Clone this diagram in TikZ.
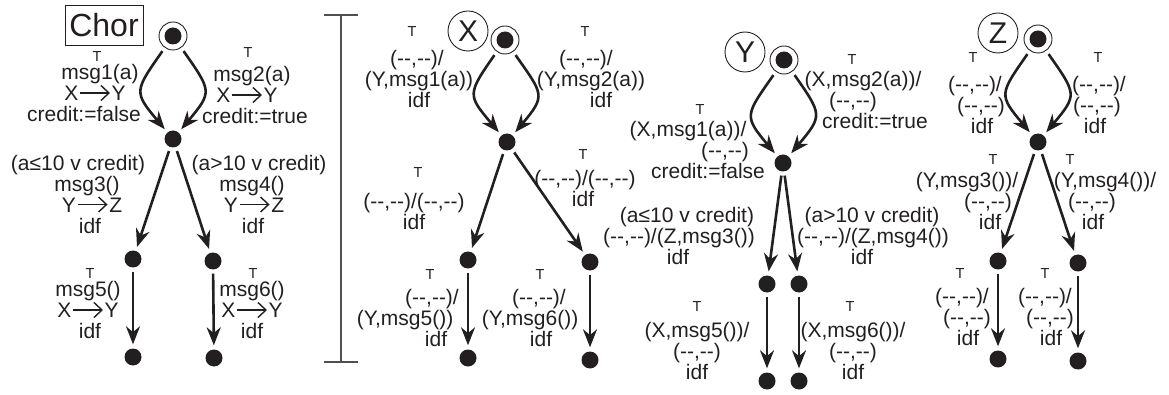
\documentclass[tikz,border=0pt]{standalone}
\usepackage{fontspec}
\setmainfont{Liberation Sans}
\usetikzlibrary{arrows.meta}
\definecolor{ink}{RGB}{35,31,32}
\definecolor{brk}{RGB}{80,80,80}
\newcommand\sendarr{\hspace{1pt}\tikz[baseline=-7.5pt]\draw[ink,line width=1.4pt,-{Straight Barb[length=8pt,width=15pt]}] (0pt,0pt)--(30pt,0pt);\hspace{1pt}}
\newcommand\emp{(-\kern0pt-,-\kern0pt-)}
% shift one line of a centred label sideways by #1 (positive: right)
\newcommand\sh[2]{\kern#1pt\relax#2\kern-#1pt\relax}
\begin{document}
\begin{tikzpicture}[x=1pt,y=-1pt,
  dot/.style={circle,fill=ink,inner sep=0,minimum size=17pt},
  init/.style={circle,draw=ink,line width=0.9pt,inner sep=0,minimum size=28pt,
    path picture={\fill[ink] (path picture bounding box.center) circle (8.5pt);}},
  tr/.style={draw=ink,line width=2.6pt,-{Stealth[length=18pt,width=14pt]},shorten >=4pt,shorten <=4pt},
  lcurve/.style={out=235,in=130,looseness=1.6},
  rcurve/.style={out=-55,in=50,looseness=1.6},
  lab/.style={align=center,inner sep=0,text=ink,font=\fontsize{21}{21}\selectfont},
  tt/.style={inner sep=0,text=ink,font=\fontsize{14.5}{14.5}\selectfont},
  who/.style={circle,draw=ink,line width=0.9pt,inner sep=0,minimum size=40pt,text=ink,font=\fontsize{30}{30}\selectfont}]
\useasboundingbox (0,0) rectangle (1169,395);

% ---------------- Chor ----------------
\node[draw=ink,line width=0.9pt,minimum width=78pt,minimum height=40pt,inner sep=0,
  font=\fontsize{32}{32}\selectfont,text=ink] (chor) at (104,25) {Chor};
\node[init] (c0) at (173,36) {};
\node[dot] (c1) at (173,139) {};
\node[dot] (c2) at (133,259) {};
\node[dot] (c3) at (213,261) {};
\node[dot] (c4) at (133,357) {};
\node[dot] (c5) at (214,358) {};
\draw[tr] (c0) to[lcurve] (c1);
\draw[tr] (c0) to[rcurve] (c1);
\draw[tr] (c1) -- (c2);
\draw[tr] (c1) -- (c3);
\draw[tr] (c2) -- (c4);
\draw[tr] (c3) -- (c5);
\node[tt] (cL1t) at (97,57) {T};
\node[lab] (cL1) at (92,93) {\sh{8}{msg1(a)}\\\sh{3}{X\sendarr Y}\\\sh{-8}{credit:=false}};
\node[tt] (cR1t) at (248,53) {T};
\node[lab] (cR1) at (252,95) {msg2(a)\\\sh{-5}{X\sendarr Y}\\\sh{3}{credit:=true}};
\node[lab] (cL2) at (86,194) {\sh{-8}{(a≤10 v credit)}\\\sh{1}{msg3()}\\\sh{6}{Y\sendarr Z}\\\sh{4}{idf}};
\node[lab] (cR2) at (254,194) {\sh{5}{(a>10 v credit)}\\\sh{-2}{msg4()}\\Y\sendarr Z\\\sh{-1}{idf}};
\node[tt] (cL3t) at (90,274) {T};
\node[lab] (cL3) at (88,310) {msg5()\\X\sendarr Y\\\sh{2}{idf}};
\node[tt] (cR3t) at (253,274) {T};
\node[lab] (cR3) at (252,310) {msg6()\\X\sendarr Y\\idf};

% ---------------- bracket ----------------
\draw[brk,line width=1.5pt] (324,15) -- (358,15) (341,15) -- (341,362) (324,362) -- (358,362);

% ---------------- X ----------------
\node[who] (xw) at (468,31) {X};
\node[init] (x0) at (505,40) {};
\node[dot] (x1) at (507,142) {};
\node[dot] (x2) at (468,260) {};
\node[dot] (x3) at (590,262) {};
\node[dot] (x4) at (468,358) {};
\node[dot] (x5) at (590,360) {};
\draw[tr] (x0) to[lcurve] (x1);
\draw[tr] (x0) to[rcurve] (x1);
\draw[tr] (x1) -- (x2);
\draw[tr] (x1) -- (x3);
\draw[tr] (x2) -- (x4);
\draw[tr] (x3) -- (x5);
\node[tt] (xL1t) at (412,32) {T};
\node[lab] (xL1) at (419,79) {\sh{-2}{\emp/}\\(Y,msg1(a))\\idf};
\node[tt] (xR1t) at (585,32) {T};
\node[lab] (xR1) at (592,79) {\sh{-6}{\emp/}\\\sh{-1}{(Y,msg2(a))}\\\sh{9}{idf}};
\node[tt] (xL2t) at (418,173) {T};
\node[lab] (xL2) at (414,211) {\emp/\emp\\idf};
\node[tt] (xR2t) at (583,155) {T};
\node[lab] (xR2) at (585,188) {\emp/\emp\\\sh{-2}{idf}};
\node[tt] (xL3t) at (430,275) {T};
\node[lab] (xL3) at (422,318) {\sh{10}{\emp/}\\\sh{-17}{(Y,msg5())}\\\sh{14}{idf}};
\node[tt] (xR3t) at (540,275) {T};
\node[lab] (xR3) at (535,318) {\sh{4}{\emp/}\\\sh{-5}{(Y,msg6())}\\\sh{6}{idf}};

% ---------------- Y ----------------
\node[who] (yw) at (745,52) {Y};
\node[init] (y0) at (784,60) {};
\node[dot] (y1) at (783,163) {};
\node[dot] (y2) at (767,284) {};
\node[dot] (y3) at (799,284) {};
\node[dot] (y4) at (767,381) {};
\node[dot] (y5) at (799,381) {};
\draw[tr] (y0) to[lcurve] (y1);
\draw[tr] (y0) to[rcurve] (y1);
\draw[tr] (y1) -- (y2);
\draw[tr] (y1) -- (y3);
\draw[tr] (y2) -- (y4);
\draw[tr] (y3) -- (y5);
\node[tt] (yL1t) at (700,110) {T};
\node[lab] (yL1) at (706,150) {\sh{-18}{(X,msg1(a))/}\\\sh{19}{\emp}\\\sh{2}{credit:=false}};
\node[tt] (yR1t) at (852,60) {T};
\node[lab] (yR1) at (864,100) {\sh{-1}{(X,msg2(a))/}\\\sh{-11}{\emp}\\\sh{11}{credit:=true}};
\node[lab] (yL2) at (681,236) {\sh{6}{(a≤10 v credit)}\\\sh{-2}{\emp/(Z,msg3())}\\\sh{-3}{idf}};
\node[lab] (yR2) at (870,236) {\sh{2}{(a>10 v credit)}\\\sh{3}{\emp/(Z,msg4())}\\\sh{-8}{idf}};
\node[tt] (yL3t) at (697,307) {T};
\node[lab] (yL3) at (697,351) {(X,msg5())/\\\emp\\idf};
\node[tt] (yR3t) at (850,307) {T};
\node[lab] (yR3) at (853,351) {(X,msg6())/\\\emp\\idf};

% ---------------- Z ----------------
\node[who] (zw) at (998,33) {Z};
\node[init] (z0) at (1038,39) {};
\node[dot] (z1) at (1038,142) {};
\node[dot] (z2) at (998,261) {};
\node[dot] (z3) at (1078,263) {};
\node[dot] (z4) at (998,359) {};
\node[dot] (z5) at (1078,361) {};
\draw[tr] (z0) to[lcurve] (z1);
\draw[tr] (z0) to[rcurve] (z1);
\draw[tr] (z1) -- (z2);
\draw[tr] (z1) -- (z3);
\draw[tr] (z2) -- (z4);
\draw[tr] (z3) -- (z5);
\node[tt] (zL1t) at (973,58) {T};
\node[lab] (zL1) at (979,105) {\sh{-4}{\emp/}\\\sh{2}{\emp}\\\sh{3}{idf}};
\node[tt] (zR1t) at (1098,58) {T};
\node[lab] (zR1) at (1097,105) {\sh{2}{\emp/}\\\emp\\\sh{-2}{idf}};
\node[tt] (zL2t) at (993,160) {T};
\node[lab] (zL2) at (978,201) {\sh{-11}{(Y,msg3())/}\\\sh{10}{\emp}\\\sh{12}{idf}};
\node[tt] (zR2t) at (1070,160) {T};
\node[lab] (zR2) at (1098,201) {\sh{7}{(Y,msg4())/}\\\sh{-6}{\emp}\\\sh{-5}{idf}};
\node[tt] (zL3t) at (960,274) {T};
\node[lab] (zL3) at (966,317) {\sh{-4}{\emp/}\\\sh{1}{\emp}\\\sh{2}{idf}};
\node[tt] (zR3t) at (1045,274) {T};
\node[lab] (zR3) at (1049,317) {\sh{-4}{\emp/}\\\sh{1}{\emp}\\\sh{2}{idf}};
\end{tikzpicture}
\end{document}
